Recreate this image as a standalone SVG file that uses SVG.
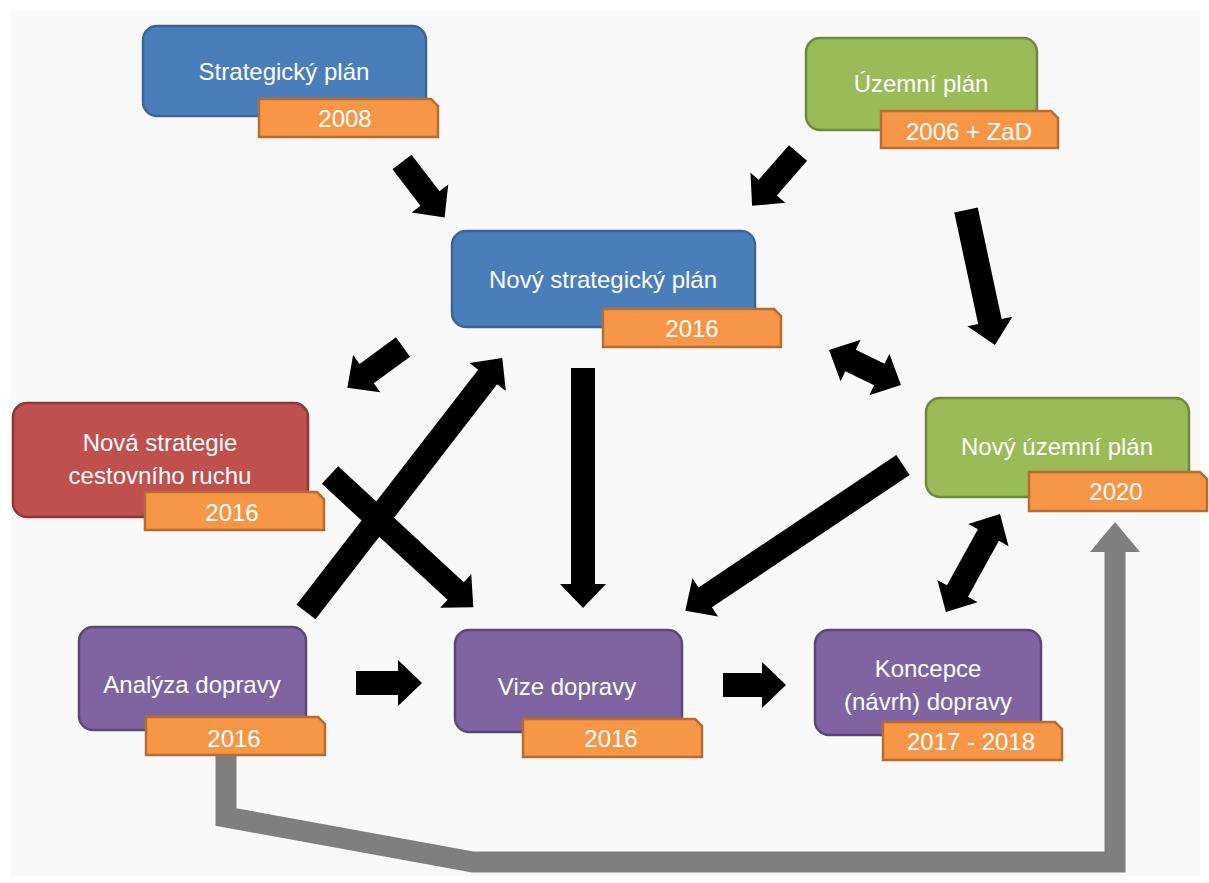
<svg xmlns="http://www.w3.org/2000/svg" width="1209" height="883" viewBox="0 0 1209 883">
<style>
.box{stroke-width:2.5}
.blue{fill:#4a7ebb;stroke:#3a6596}
.green{fill:#9bbb59;stroke:#71893f}
.red{fill:#c0504d;stroke:#8c3836}
.purple{fill:#8064a2;stroke:#5c4776}
.tag{fill:#f79646;stroke:#b66d31;stroke-width:2.5}
text{font-family:"Liberation Sans",Arial,sans-serif;font-size:24px;fill:#ffffff;text-anchor:middle}
.a{fill:#000000}
</style>
<rect x="0" y="0" width="1209" height="883" fill="#ffffff"/>
<rect x="10" y="10" width="1190" height="866" fill="#f9f9f9"/>
<g id="connectors">
<polyline points="226,755 226,817 473,862 1115,862 1115,550" fill="none" stroke="#7f7f7f" stroke-width="21" stroke-linejoin="miter"/>
<polygon points="1090,552 1115,522 1140,552" fill="#7f7f7f"/>
<path class="a" d="M0,-12 H46 V-23 L70,0 L46,23 V12 H0 Z" transform="translate(402,162) rotate(52.5)"/>
<path class="a" d="M0,-12 H46 V-23 L70,0 L46,23 V12 H0 Z" transform="translate(798,153) rotate(131)"/>
<path class="a" d="M0,-12 H114 V-23 L138,0 L114,23 V12 H0 Z" transform="translate(966,210) rotate(77.9)"/>
<path class="a" d="M0,-12 H45 V-23 L69,0 L45,23 V12 H0 Z" transform="translate(403,347) rotate(143.8)"/>
<path class="a" d="M0,-12 H297 V-23 L321,0 L297,23 V12 H0 Z" transform="translate(306,612) rotate(-52.3)"/>
<path class="a" d="M0,-12 H171 V-23 L195,0 L171,23 V12 H0 Z" transform="translate(330,475) rotate(42.7)"/>
<path class="a" d="M0,-12 H216 V-23 L240,0 L216,23 V12 H0 Z" transform="translate(583,368) rotate(90)"/>
<path class="a" d="M0,-12 H238 V-23 L262,0 L238,23 V12 H0 Z" transform="translate(903,465) rotate(146.2)"/>
<path class="a" d="M0,0 L24,-23 V-12 H56 V-23 L80,0 L56,23 V12 H24 V23 Z" transform="translate(829,350) rotate(25.9)"/>
<path class="a" d="M0,0 L24,-23 V-12 H88 V-23 L112,0 L88,23 V12 H24 V23 Z" transform="translate(1000,514) rotate(118.9)"/>
<path class="a" d="M0,-12 H42 V-23 L66,0 L42,23 V12 H0 Z" transform="translate(356,683)"/>
<path class="a" d="M0,-12 H39 V-23 L63,0 L39,23 V12 H0 Z" transform="translate(723,685)"/>
</g>
<g id="strategicky-plan">
<rect class="box blue" x="143" y="26" width="283" height="90" rx="14"/>
<text x="284" y="80">Strategický plán</text>
<path class="tag" d="M259,99 H431 L438,106 V137 H259 Z"/>
<text x="345" y="127">2008</text>
</g>
<g id="uzemni-plan">
<rect class="box green" x="806" y="38" width="231" height="92" rx="14"/>
<text x="921" y="92">Územní plán</text>
<path class="tag" d="M881,111 H1051 L1058,118 V148 H881 Z"/>
<text x="969" y="140">2006 + ZaD</text>
</g>
<g id="novy-strategicky-plan">
<rect class="box blue" x="452" y="231" width="303" height="96" rx="14"/>
<text x="603" y="288">Nový strategický plán</text>
<path class="tag" d="M603,309 H774 L781,316 V347 H603 Z"/>
<text x="692" y="337">2016</text>
</g>
<g id="nova-strategie-cr">
<rect class="box red" x="13" y="403" width="295" height="114" rx="14"/>
<text x="160" y="451">Nová strategie</text>
<text x="160" y="484">cestovního ruchu</text>
<path class="tag" d="M145,492 H317 L324,499 V530 H145 Z"/>
<text x="232" y="521">2016</text>
</g>
<g id="novy-uzemni-plan">
<rect class="box green" x="926" y="398" width="263" height="99" rx="14"/>
<text x="1057" y="455">Nový územní plán</text>
<path class="tag" d="M1029,472 H1200 L1207,479 V511 H1029 Z"/>
<text x="1116" y="500">2020</text>
</g>
<g id="analyza-dopravy">
<rect class="box purple" x="79" y="627" width="227" height="103" rx="14"/>
<text x="192" y="693">Analýza dopravy</text>
<path class="tag" d="M146,717 H318 L325,724 V755 H146 Z"/>
<text x="234" y="747">2016</text>
</g>
<g id="vize-dopravy">
<rect class="box purple" x="455" y="630" width="227" height="102" rx="14"/>
<text x="567" y="695">Vize dopravy</text>
<path class="tag" d="M523,719 H695 L702,726 V757 H523 Z"/>
<text x="611" y="747">2016</text>
</g>
<g id="koncepce-dopravy">
<rect class="box purple" x="815" y="630" width="226" height="105" rx="14"/>
<text x="928" y="677">Koncepce</text>
<text x="928" y="710">(návrh) dopravy</text>
<path class="tag" d="M883,722 H1055 L1062,729 V760 H883 Z"/>
<text x="971" y="750">2017 - 2018</text>
</g>
</svg>
